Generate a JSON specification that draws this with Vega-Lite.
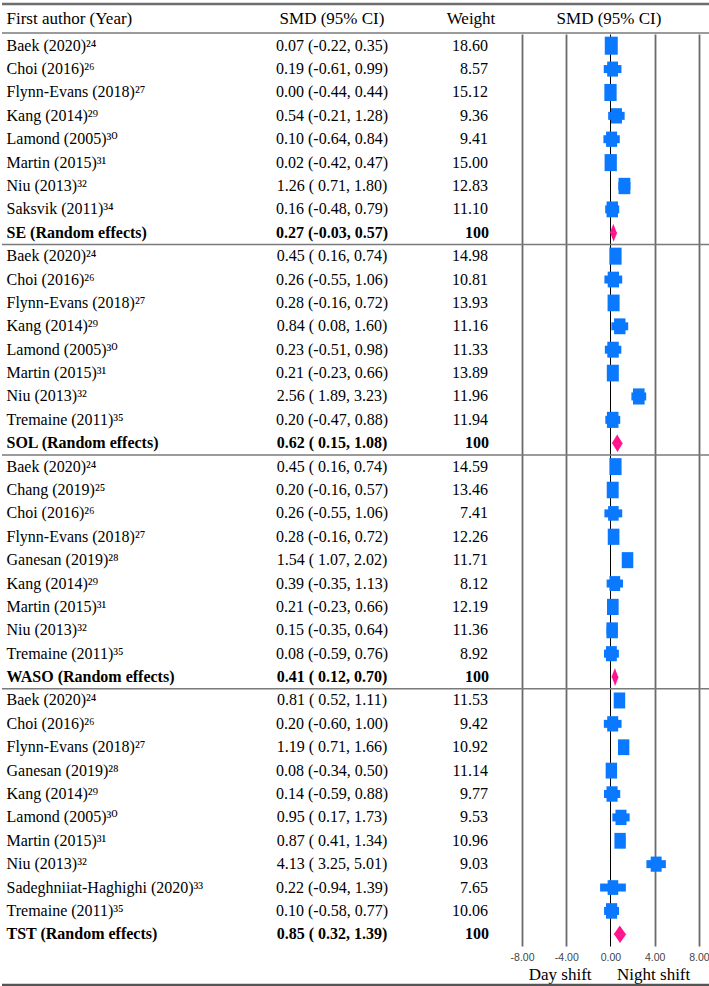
{
  "$schema": "https://vega.github.io/schema/vega-lite/v6.json",
  "padding": {"left": 0, "right": 0, "top": 2, "bottom": 0},
  "config": {"view": {"stroke": null}, "concat": {"spacing": 0}, "font": "Liberation Serif, DejaVu Serif, serif"},
  "datasets": {
    "head": [
      {"col": "a", "h": "First author (Year)"},
      {"col": "b", "h": "SMD (95% CI)"},
      {"col": "c", "h": "Weight"},
      {"col": "d", "h": "SMD (95% CI)"}
    ],
    "foot": [{"f": "end"}],
    "rows": [
      {"i": 1, "sec": "SE", "kind": "study", "name": "Baek (2020)²⁴", "ci": "0.07 (-0.22, 0.35)", "smd": 0.07, "lo": -0.22, "hi": 0.35, "w": 18.60},
      {"i": 2, "sec": "SE", "kind": "study", "name": "Choi (2016)²⁶", "ci": "0.19 (-0.61, 0.99)", "smd": 0.19, "lo": -0.61, "hi": 0.99, "w": 8.57},
      {"i": 3, "sec": "SE", "kind": "study", "name": "Flynn-Evans (2018)²⁷", "ci": "0.00 (-0.44, 0.44)", "smd": 0.00, "lo": -0.44, "hi": 0.44, "w": 15.12},
      {"i": 4, "sec": "SE", "kind": "study", "name": "Kang (2014)²⁹", "ci": "0.54 (-0.21, 1.28)", "smd": 0.54, "lo": -0.21, "hi": 1.28, "w": 9.36},
      {"i": 5, "sec": "SE", "kind": "study", "name": "Lamond (2005)³⁰", "ci": "0.10 (-0.64, 0.84)", "smd": 0.10, "lo": -0.64, "hi": 0.84, "w": 9.41},
      {"i": 6, "sec": "SE", "kind": "study", "name": "Martin (2015)³¹", "ci": "0.02 (-0.42, 0.47)", "smd": 0.02, "lo": -0.42, "hi": 0.47, "w": 15.00},
      {"i": 7, "sec": "SE", "kind": "study", "name": "Niu (2013)³²", "ci": "1.26 ( 0.71, 1.80)", "smd": 1.26, "lo": 0.71, "hi": 1.80, "w": 12.83},
      {"i": 8, "sec": "SE", "kind": "study", "name": "Saksvik (2011)³⁴", "ci": "0.16 (-0.48, 0.79)", "smd": 0.16, "lo": -0.48, "hi": 0.79, "w": 11.10},
      {"i": 9, "sec": "SE", "kind": "pooled", "name": "SE (Random effects)", "ci": "0.27 (-0.03, 0.57)", "smd": 0.27, "lo": -0.03, "hi": 0.57, "w": 100},
      {"i": 10, "sec": "SOL", "kind": "study", "name": "Baek (2020)²⁴", "ci": "0.45 ( 0.16, 0.74)", "smd": 0.45, "lo": 0.16, "hi": 0.74, "w": 14.98},
      {"i": 11, "sec": "SOL", "kind": "study", "name": "Choi (2016)²⁶", "ci": "0.26 (-0.55, 1.06)", "smd": 0.26, "lo": -0.55, "hi": 1.06, "w": 10.81},
      {"i": 12, "sec": "SOL", "kind": "study", "name": "Flynn-Evans (2018)²⁷", "ci": "0.28 (-0.16, 0.72)", "smd": 0.28, "lo": -0.16, "hi": 0.72, "w": 13.93},
      {"i": 13, "sec": "SOL", "kind": "study", "name": "Kang (2014)²⁹", "ci": "0.84 ( 0.08, 1.60)", "smd": 0.84, "lo": 0.08, "hi": 1.60, "w": 11.16},
      {"i": 14, "sec": "SOL", "kind": "study", "name": "Lamond (2005)³⁰", "ci": "0.23 (-0.51, 0.98)", "smd": 0.23, "lo": -0.51, "hi": 0.98, "w": 11.33},
      {"i": 15, "sec": "SOL", "kind": "study", "name": "Martin (2015)³¹", "ci": "0.21 (-0.23, 0.66)", "smd": 0.21, "lo": -0.23, "hi": 0.66, "w": 13.89},
      {"i": 16, "sec": "SOL", "kind": "study", "name": "Niu (2013)³²", "ci": "2.56 ( 1.89, 3.23)", "smd": 2.56, "lo": 1.89, "hi": 3.23, "w": 11.96},
      {"i": 17, "sec": "SOL", "kind": "study", "name": "Tremaine (2011)³⁵", "ci": "0.20 (-0.47, 0.88)", "smd": 0.20, "lo": -0.47, "hi": 0.88, "w": 11.94},
      {"i": 18, "sec": "SOL", "kind": "pooled", "name": "SOL (Random effects)", "ci": "0.62 ( 0.15, 1.08)", "smd": 0.62, "lo": 0.15, "hi": 1.08, "w": 100},
      {"i": 19, "sec": "WASO", "kind": "study", "name": "Baek (2020)²⁴", "ci": "0.45 ( 0.16, 0.74)", "smd": 0.45, "lo": 0.16, "hi": 0.74, "w": 14.59},
      {"i": 20, "sec": "WASO", "kind": "study", "name": "Chang (2019)²⁵", "ci": "0.20 (-0.16, 0.57)", "smd": 0.20, "lo": -0.16, "hi": 0.57, "w": 13.46},
      {"i": 21, "sec": "WASO", "kind": "study", "name": "Choi (2016)²⁶", "ci": "0.26 (-0.55, 1.06)", "smd": 0.26, "lo": -0.55, "hi": 1.06, "w": 7.41},
      {"i": 22, "sec": "WASO", "kind": "study", "name": "Flynn-Evans (2018)²⁷", "ci": "0.28 (-0.16, 0.72)", "smd": 0.28, "lo": -0.16, "hi": 0.72, "w": 12.26},
      {"i": 23, "sec": "WASO", "kind": "study", "name": "Ganesan (2019)²⁸", "ci": "1.54 ( 1.07, 2.02)", "smd": 1.54, "lo": 1.07, "hi": 2.02, "w": 11.71},
      {"i": 24, "sec": "WASO", "kind": "study", "name": "Kang (2014)²⁹", "ci": "0.39 (-0.35, 1.13)", "smd": 0.39, "lo": -0.35, "hi": 1.13, "w": 8.12},
      {"i": 25, "sec": "WASO", "kind": "study", "name": "Martin (2015)³¹", "ci": "0.21 (-0.23, 0.66)", "smd": 0.21, "lo": -0.23, "hi": 0.66, "w": 12.19},
      {"i": 26, "sec": "WASO", "kind": "study", "name": "Niu (2013)³²", "ci": "0.15 (-0.35, 0.64)", "smd": 0.15, "lo": -0.35, "hi": 0.64, "w": 11.36},
      {"i": 27, "sec": "WASO", "kind": "study", "name": "Tremaine (2011)³⁵", "ci": "0.08 (-0.59, 0.76)", "smd": 0.08, "lo": -0.59, "hi": 0.76, "w": 8.92},
      {"i": 28, "sec": "WASO", "kind": "pooled", "name": "WASO (Random effects)", "ci": "0.41 ( 0.12, 0.70)", "smd": 0.41, "lo": 0.12, "hi": 0.70, "w": 100},
      {"i": 29, "sec": "TST", "kind": "study", "name": "Baek (2020)²⁴", "ci": "0.81 ( 0.52, 1.11)", "smd": 0.81, "lo": 0.52, "hi": 1.11, "w": 11.53},
      {"i": 30, "sec": "TST", "kind": "study", "name": "Choi (2016)²⁶", "ci": "0.20 (-0.60, 1.00)", "smd": 0.20, "lo": -0.60, "hi": 1.00, "w": 9.42},
      {"i": 31, "sec": "TST", "kind": "study", "name": "Flynn-Evans (2018)²⁷", "ci": "1.19 ( 0.71, 1.66)", "smd": 1.19, "lo": 0.71, "hi": 1.66, "w": 10.92},
      {"i": 32, "sec": "TST", "kind": "study", "name": "Ganesan (2019)²⁸", "ci": "0.08 (-0.34, 0.50)", "smd": 0.08, "lo": -0.34, "hi": 0.50, "w": 11.14},
      {"i": 33, "sec": "TST", "kind": "study", "name": "Kang (2014)²⁹", "ci": "0.14 (-0.59, 0.88)", "smd": 0.14, "lo": -0.59, "hi": 0.88, "w": 9.77},
      {"i": 34, "sec": "TST", "kind": "study", "name": "Lamond (2005)³⁰", "ci": "0.95 ( 0.17, 1.73)", "smd": 0.95, "lo": 0.17, "hi": 1.73, "w": 9.53},
      {"i": 35, "sec": "TST", "kind": "study", "name": "Martin (2015)³¹", "ci": "0.87 ( 0.41, 1.34)", "smd": 0.87, "lo": 0.41, "hi": 1.34, "w": 10.96},
      {"i": 36, "sec": "TST", "kind": "study", "name": "Niu (2013)³²", "ci": "4.13 ( 3.25, 5.01)", "smd": 4.13, "lo": 3.25, "hi": 5.01, "w": 9.03},
      {"i": 37, "sec": "TST", "kind": "study", "name": "Sadeghniiat-Haghighi (2020)³³", "ci": "0.22 (-0.94, 1.39)", "smd": 0.22, "lo": -0.94, "hi": 1.39, "w": 7.65},
      {"i": 38, "sec": "TST", "kind": "study", "name": "Tremaine (2011)³⁵", "ci": "0.10 (-0.58, 0.77)", "smd": 0.10, "lo": -0.58, "hi": 0.77, "w": 10.06},
      {"i": 39, "sec": "TST", "kind": "pooled", "name": "TST (Random effects)", "ci": "0.85 ( 0.32, 1.39)", "smd": 0.85, "lo": 0.32, "hi": 1.39, "w": 100}
    ]
  },
  "spacing": 0,
  "vconcat": [
    {
      "spacing": 0,
      "bounds": "flush",
      "hconcat": [
        {
          "width": 250, "height": 29,
          "data": {"name": "head"},
          "transform": [{"filter": "datum.col === 'a'"}],
          "encoding": {"y": {"field": "h", "type": "nominal", "axis": null, "scale": {"paddingInner": 0, "paddingOuter": 0}}},
          "layer": [
            {"mark": {"type": "text", "align": "left", "dx": -120.5, "fontSize": 17, "color": "black"}, "encoding": {"text": {"field": "h"}}},
            {"mark": {"type": "rule", "color": "#6e6e6e", "strokeWidth": 2.5}, "encoding": {"y": {"field": "h", "type": "nominal", "bandPosition": 0, "axis": null}}},
            {"mark": {"type": "rule", "color": "#7a7a7a", "strokeWidth": 1.5}, "encoding": {"y": {"field": "h", "type": "nominal", "bandPosition": 1, "axis": null}}}
          ]
        },
        {
          "width": 160, "height": 29,
          "data": {"name": "head"},
          "transform": [{"filter": "datum.col === 'b'"}],
          "encoding": {"y": {"field": "h", "type": "nominal", "axis": null, "scale": {"paddingInner": 0, "paddingOuter": 0}}},
          "layer": [
            {"mark": {"type": "text", "align": "center", "fontSize": 17, "color": "black"}, "encoding": {"text": {"field": "h"}}},
            {"mark": {"type": "rule", "color": "#6e6e6e", "strokeWidth": 2.5}, "encoding": {"y": {"field": "h", "type": "nominal", "bandPosition": 0, "axis": null}}},
            {"mark": {"type": "rule", "color": "#7a7a7a", "strokeWidth": 1.5}, "encoding": {"y": {"field": "h", "type": "nominal", "bandPosition": 1, "axis": null}}}
          ]
        },
        {
          "width": 95, "height": 29,
          "data": {"name": "head"},
          "transform": [{"filter": "datum.col === 'c'"}],
          "encoding": {"y": {"field": "h", "type": "nominal", "axis": null, "scale": {"paddingInner": 0, "paddingOuter": 0}}},
          "layer": [
            {"mark": {"type": "text", "align": "center", "dx": 11.5, "fontSize": 17, "color": "black"}, "encoding": {"text": {"field": "h"}}},
            {"mark": {"type": "rule", "color": "#6e6e6e", "strokeWidth": 2.5}, "encoding": {"y": {"field": "h", "type": "nominal", "bandPosition": 0, "axis": null}}},
            {"mark": {"type": "rule", "color": "#7a7a7a", "strokeWidth": 1.5}, "encoding": {"y": {"field": "h", "type": "nominal", "bandPosition": 1, "axis": null}}}
          ]
        },
        {
          "width": 204, "height": 29,
          "data": {"name": "head"},
          "transform": [{"filter": "datum.col === 'd'"}],
          "encoding": {"y": {"field": "h", "type": "nominal", "axis": null, "scale": {"paddingInner": 0, "paddingOuter": 0}}},
          "layer": [
            {"mark": {"type": "text", "align": "center", "fontSize": 17, "color": "black"}, "encoding": {"text": {"field": "h"}}},
            {"mark": {"type": "rule", "color": "#6e6e6e", "strokeWidth": 2.5}, "encoding": {"y": {"field": "h", "type": "nominal", "bandPosition": 0, "axis": null}}},
            {"mark": {"type": "rule", "color": "#7a7a7a", "strokeWidth": 1.5}, "encoding": {"y": {"field": "h", "type": "nominal", "bandPosition": 1, "axis": null}}}
          ]
        }
      ]
    },
    {
      "spacing": 0,
      "bounds": "flush",
      "hconcat": [
        {
          "width": 250, "height": 912,
          "data": {"name": "rows"},
          "encoding": {"y": {"field": "i", "type": "ordinal", "axis": null, "scale": {"paddingInner": 0, "paddingOuter": 0}}},
          "layer": [
            {"transform": [{"filter": "datum.kind === 'study'"}], "mark": {"type": "text", "align": "left", "dx": -120.5, "fontSize": 16, "color": "black"}, "encoding": {"text": {"field": "name"}}},
            {"transform": [{"filter": "datum.kind === 'pooled'"}], "mark": {"type": "text", "align": "left", "dx": -120.5, "fontSize": 16, "fontWeight": "bold", "color": "black"}, "encoding": {"text": {"field": "name"}}},
            {"transform": [{"filter": "datum.kind === 'pooled' && datum.sec !== 'TST'"}], "mark": {"type": "rule", "color": "#7a7a7a", "strokeWidth": 1.5}, "encoding": {"y": {"field": "i", "type": "ordinal", "bandPosition": 1, "axis": null}}}
          ]
        },
        {
          "width": 160, "height": 912,
          "data": {"name": "rows"},
          "encoding": {"y": {"field": "i", "type": "ordinal", "axis": null, "scale": {"paddingInner": 0, "paddingOuter": 0}}},
          "layer": [
            {"transform": [{"filter": "datum.kind === 'study'"}], "mark": {"type": "text", "align": "center", "fontSize": 16, "color": "black"}, "encoding": {"text": {"field": "ci"}}},
            {"transform": [{"filter": "datum.kind === 'pooled'"}], "mark": {"type": "text", "align": "center", "fontSize": 16, "fontWeight": "bold", "color": "black"}, "encoding": {"text": {"field": "ci"}}},
            {"transform": [{"filter": "datum.kind === 'pooled' && datum.sec !== 'TST'"}], "mark": {"type": "rule", "color": "#7a7a7a", "strokeWidth": 1.5}, "encoding": {"y": {"field": "i", "type": "ordinal", "bandPosition": 1, "axis": null}}}
          ]
        },
        {
          "width": 95, "height": 912,
          "data": {"name": "rows"},
          "encoding": {"y": {"field": "i", "type": "ordinal", "axis": null, "scale": {"paddingInner": 0, "paddingOuter": 0}}},
          "layer": [
            {"transform": [{"filter": "datum.kind === 'study'"}], "mark": {"type": "text", "align": "right", "dx": 28.5, "fontSize": 16, "color": "black"}, "encoding": {"text": {"field": "w", "type": "quantitative", "format": ".2f"}}},
            {"transform": [{"filter": "datum.kind === 'pooled'"}], "mark": {"type": "text", "align": "right", "dx": 29.5, "fontSize": 16, "fontWeight": "bold", "color": "black"}, "encoding": {"text": {"field": "w", "type": "quantitative", "format": "d"}}},
            {"transform": [{"filter": "datum.kind === 'pooled' && datum.sec !== 'TST'"}], "mark": {"type": "rule", "color": "#7a7a7a", "strokeWidth": 1.5}, "encoding": {"y": {"field": "i", "type": "ordinal", "bandPosition": 1, "axis": null}}}
          ]
        },
        {
          "width": 204, "height": 912,
          "data": {"name": "rows"},
          "encoding": {"y": {"field": "i", "type": "ordinal", "axis": null, "scale": {"paddingInner": 0, "paddingOuter": 0}}},
          "layer": [
            {
              "transform": [{"filter": "datum.kind === 'study'"}],
              "mark": {"type": "rule", "color": "#0a78ff", "strokeWidth": 8},
              "encoding": {
                "x": {
                  "field": "lo", "type": "quantitative",
                  "scale": {"domain": [-9.36, 9.09], "nice": false, "zero": false},
                  "axis": {
                    "values": [-8, -4, 0, 4, 8],
                    "labelExpr": "replace(format(datum.value, '.2f'), '\u2212', '-')",
                    "grid": true,
                    "gridColor": {"condition": {"test": "datum.value === 0", "value": "#000000"}, "value": "#6a6a6a"},
                    "gridWidth": {"condition": {"test": "datum.value === 0", "value": 1}, "value": 1.8},
                    "domain": false, "ticks": false,
                    "labelFont": "Liberation Sans Narrow, Liberation Sans, Arial",
                    "labelFontSize": 10.5, "labelColor": "#444444", "labelPadding": 6,
                    "title": "Day shift\u00a0\u00a0\u00a0\u00a0\u00a0\u00a0Night shift",
                    "titleFont": "Liberation Serif", "titleFontSize": 17, "titleFontWeight": "normal",
                    "titleColor": "black", "titlePadding": 4
                  }
                },
                "x2": {"field": "hi"}
              }
            },
            {
              "transform": [{"filter": "datum.kind === 'study'"}],
              "mark": {"type": "point", "shape": "M-0.72,-1H0.72V1H-0.72Z", "filled": true, "color": "#0a78ff", "opacity": 1, "strokeWidth": 0},
              "encoding": {
                "x": {"field": "smd", "type": "quantitative"},
                "size": {"field": "w", "type": "quantitative", "scale": {"domain": [5, 20], "range": [190, 340]}, "legend": null}
              }
            },
            {
              "transform": [
                {"filter": "datum.kind === 'pooled'"},
                {"fold": ["lo", "smd", "hi"], "as": ["k", "v"]},
                {"lookup": "k", "from": {"data": {"values": [{"k": "lo", "up": "mid", "dn": "mid"}, {"k": "smd", "up": "top", "dn": "bot"}, {"k": "hi", "up": "mid", "dn": "mid"}]}, "key": "k", "fields": ["up", "dn"]}}
              ],
              "mark": {"type": "line", "filled": true, "color": "#ff148c", "stroke": "#ff148c", "strokeWidth": 0.6},
              "encoding": {
                "x": {"field": "v", "type": "quantitative"},
                "yOffset": {"field": "up", "type": "nominal", "scale": {"type": "point", "domain": ["top", "mid", "bot"], "range": [3.19, 20.19], "padding": 0}},
                "detail": {"field": "i"}
              }
            },
            {
              "transform": [
                {"filter": "datum.kind === 'pooled'"},
                {"fold": ["lo", "smd", "hi"], "as": ["k", "v"]},
                {"lookup": "k", "from": {"data": {"values": [{"k": "lo", "up": "mid", "dn": "mid"}, {"k": "smd", "up": "top", "dn": "bot"}, {"k": "hi", "up": "mid", "dn": "mid"}]}, "key": "k", "fields": ["up", "dn"]}}
              ],
              "mark": {"type": "line", "filled": true, "color": "#ff148c", "stroke": "#ff148c", "strokeWidth": 0.6},
              "encoding": {
                "x": {"field": "v", "type": "quantitative"},
                "yOffset": {"field": "dn", "type": "nominal", "scale": {"type": "point", "domain": ["top", "mid", "bot"], "range": [3.19, 20.19], "padding": 0}},
                "detail": {"field": "i"}
              }
            },
            {"transform": [{"filter": "datum.kind === 'pooled' && datum.sec !== 'TST'"}], "mark": {"type": "rule", "color": "#7a7a7a", "strokeWidth": 1.5}, "encoding": {"y": {"field": "i", "type": "ordinal", "bandPosition": 1, "axis": null}}}
          ]
        }
      ]
    },
    {
      "width": 709, "height": 4,
      "data": {"name": "foot"},
      "mark": {"type": "rule", "color": "#555555", "strokeWidth": 2.5},
      "encoding": {"y": {"field": "f", "type": "nominal", "axis": null}}
    }
  ]
}
